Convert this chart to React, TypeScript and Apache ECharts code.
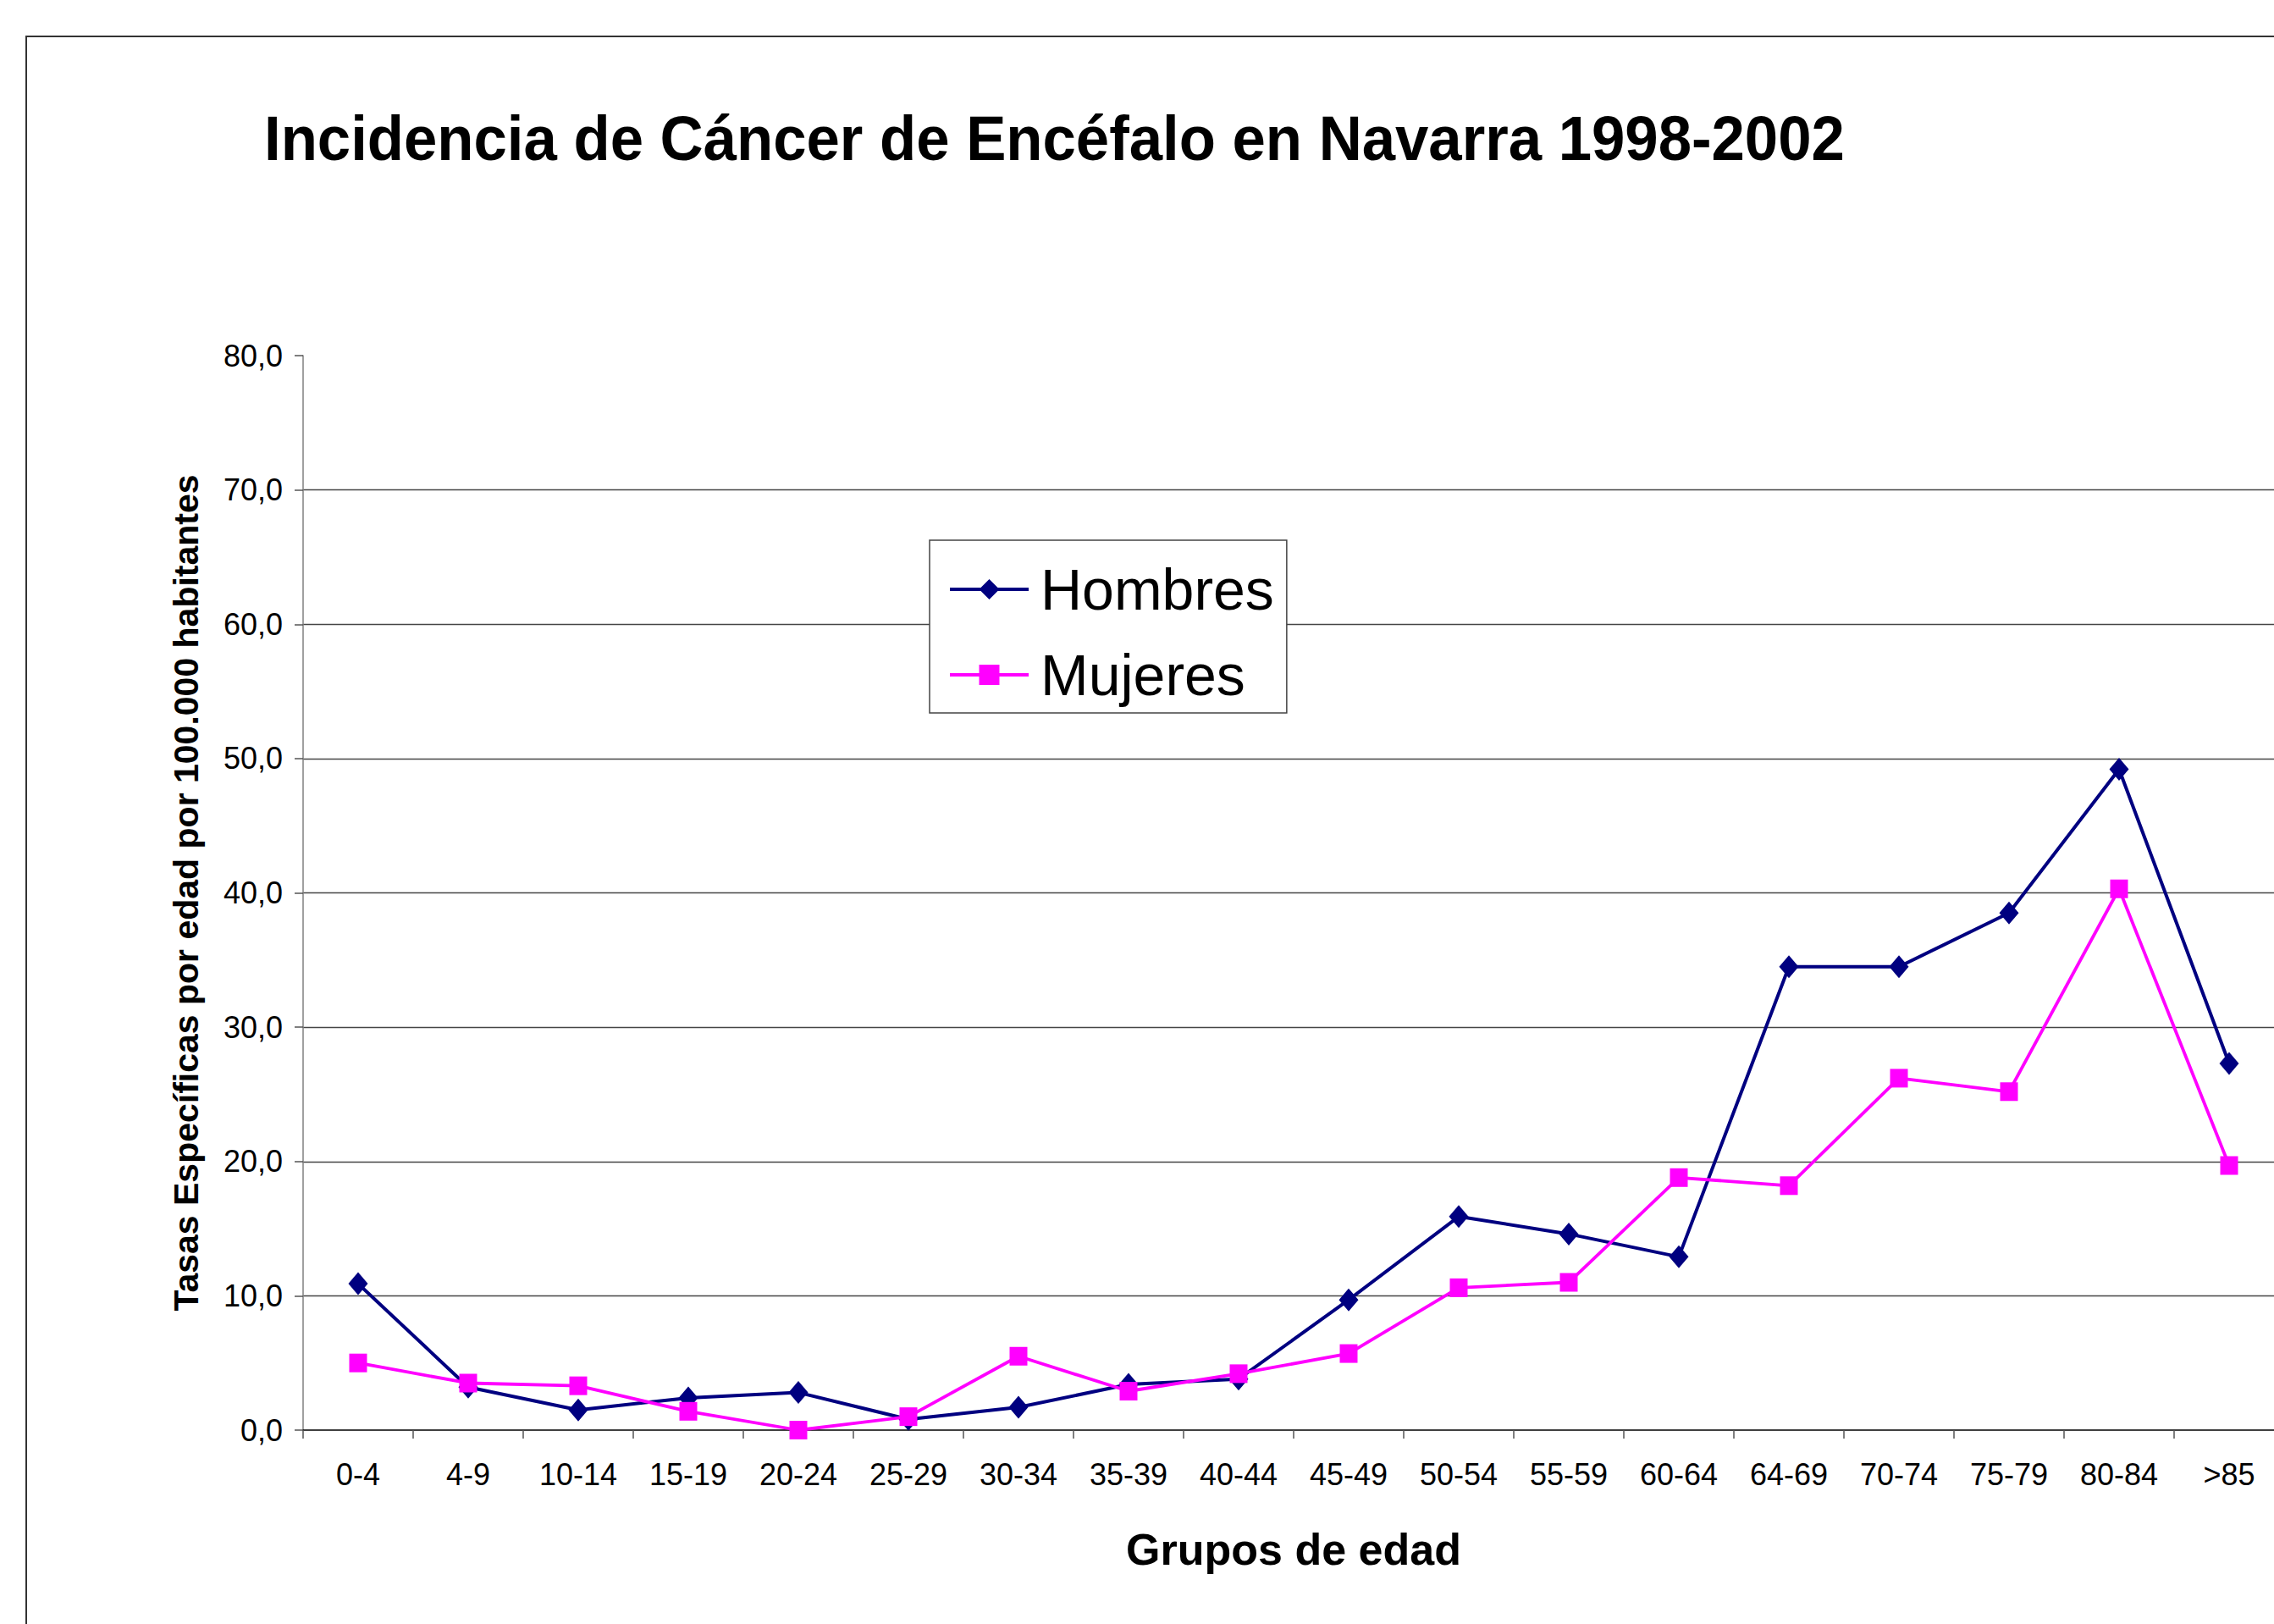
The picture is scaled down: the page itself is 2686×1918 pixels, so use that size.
import React, { useEffect, useRef } from "react";
import * as echarts from "echarts";

const categories = ["0-4", "4-9", "10-14", "15-19", "20-24", "25-29", "30-34", "35-39", "40-44", "45-49", "50-54", "55-59", "60-64", "64-69", "70-74", "75-79", "80-84", ">85"];
const hombres = [10.9, 3.2, 1.5, 2.4, 2.8, 0.8, 1.7, 3.4, 3.8, 9.7, 15.9, 14.6, 12.9, 34.5, 34.5, 38.5, 49.2, 27.3];
const mujeres = [5.0, 3.5, 3.3, 1.4, 0.0, 1.0, 5.5, 2.9, 4.2, 5.7, 10.6, 11.0, 18.8, 18.2, 26.2, 25.2, 40.3, 19.7];
const seriesNames = ["Hombres", "Mujeres"];
const yMin = 0;
const yMax = 80;
const yInterval = 10;
const titleText = "Incidencia de Cáncer de Encéfalo en Navarra 1998-2002";
const xAxisName = "Grupos de edad";
const yAxisName = "Tasas Específicas por edad por 100.000 habitantes";

const FONT = "'Liberation Sans', Arial, Helvetica, sans-serif";

export default function App() {
  const ref = useRef<HTMLDivElement>(null);

  useEffect(() => {
    if (!ref.current) return;
    const chart = echarts.init(ref.current, undefined, { renderer: "svg" });
    chart.setOption({
      animation: false,
      backgroundColor: "#ffffff",
      grid: { left: 358, top: 420, width: 2340, height: 1269, containLabel: false },
      graphic: [
        {
          type: "rect",
          silent: true,
          shape: { x: 31, y: 43, width: 3000, height: 3000 },
          style: { fill: "none", stroke: "#333333", lineWidth: 2 },
        },
        {
          type: "text",
          silent: true,
          x: 312,
          y: 163,
          scaleX: 0.943,
          style: {
            text: titleText,
            fontSize: 75,
            fontWeight: "bold",
            fontFamily: FONT,
            fill: "#000000",
            align: "left",
            verticalAlign: "middle",
          },
        },
      ],
      legend: {
        orient: "vertical",
        left: 1098,
        top: 638,
        padding: [24, 15, 11, 22],
        itemWidth: 93,
        itemHeight: 30,
        itemGap: 33,
        backgroundColor: "#ffffff",
        borderColor: "#444444",
        borderWidth: 1.5,
        data: seriesNames,
        lineStyle: { width: 4 },
        textStyle: {
          fontSize: 68,
          lineHeight: 68,
          fontFamily: FONT,
          color: "#000000",
          padding: [0, 0, 0, 9],
        },
      },
      xAxis: {
        type: "category",
        data: categories,
        boundaryGap: true,
        name: xAxisName,
        nameLocation: "middle",
        nameGap: 115,
        nameTextStyle: {
          fontSize: 52,
          fontWeight: "bold",
          fontFamily: FONT,
          color: "#000000",
        },
        axisLine: { show: true, lineStyle: { color: "#000000", width: 1.5 } },
        axisTick: { show: true, length: 10, inside: false, alignWithLabel: false, lineStyle: { color: "#555555", width: 1.5 } },
        axisLabel: { interval: 0, fontSize: 36, margin: 34, color: "#000000", fontFamily: FONT },
        splitLine: { show: false },
      },
      yAxis: {
        type: "value",
        min: yMin,
        max: yMax,
        interval: yInterval,
        name: yAxisName,
        nameLocation: "middle",
        nameRotate: 90,
        nameGap: 118,
        nameTextStyle: {
          fontSize: 41,
          fontWeight: "bold",
          fontFamily: FONT,
          color: "#000000",
        },
        axisLine: { show: true, lineStyle: { color: "#808080", width: 1.5 } },
        axisTick: { show: true, length: 10, inside: false, lineStyle: { color: "#555555", width: 1.5 } },
        axisLabel: {
          fontSize: 36,
          margin: 24,
          color: "#000000",
          fontFamily: FONT,
          formatter: (v: number) => v.toFixed(1).replace(".", ","),
        },
        splitLine: { show: true, showMaxLine: false, showMinLine: false, lineStyle: { color: "#454545", width: 1.3 } },
      },
      series: [
        {
          name: seriesNames[0],
          type: "line",
          data: hombres,
          symbol: "diamond",
          symbolSize: [23, 27],
          showAllSymbol: true,
          color: "#000080",
          itemStyle: { color: "#000080" },
          lineStyle: { color: "#000080", width: 4 },
          z: 3,
        },
        {
          name: seriesNames[1],
          type: "line",
          data: mujeres,
          symbol: "rect",
          symbolSize: [21, 22],
          showAllSymbol: true,
          color: "#FF00FF",
          itemStyle: { color: "#FF00FF" },
          lineStyle: { color: "#FF00FF", width: 3.8 },
          z: 4,
        },
      ],
    });
    return () => {
      chart.dispose();
    };
  }, []);

  return (
    <div
      style={{
        position: "fixed",
        left: 0,
        top: 0,
        width: 2686,
        height: 1918,
        overflow: "hidden",
        background: "#ffffff",
      }}
    >
      <div ref={ref} style={{ width: 2720, height: 1918 }} />
    </div>
  );
}
